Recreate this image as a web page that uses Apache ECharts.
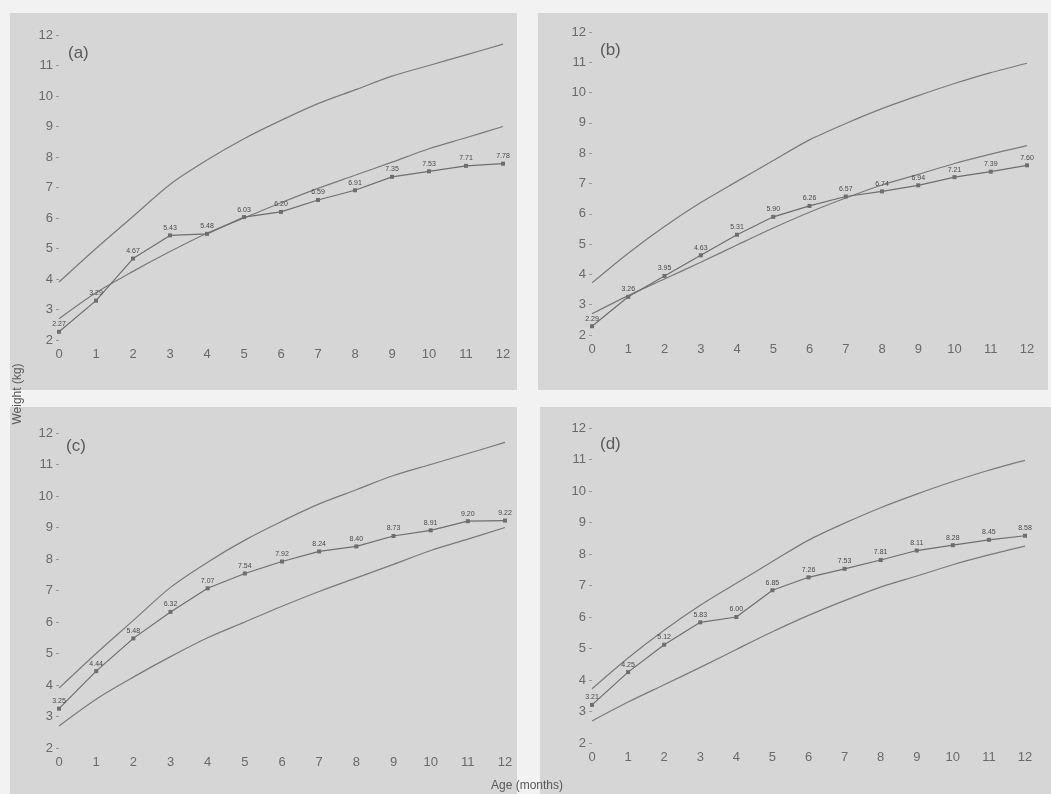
<!DOCTYPE html>
<html>
<head>
<meta charset="utf-8">
<script src="https://cdn.jsdelivr.net/npm/echarts@6/dist/echarts.min.js"></script>
<style>
html,body{margin:0;padding:0;background:#f2f2f2;}
#c{width:1051px;height:794px;}
</style>
</head>
<body>
<div id="c"></div>
<script>
// months 0..12
var months = [0,1,2,3,4,5,6,7,8,9,10,11,12];
var panelLabels = ['(a)','(b)','(c)','(d)'];
// reference curves (upper / lower) for panels a & c
var refUpperAC = [3.9,5.0,6.05,7.1,7.9,8.6,9.2,9.75,10.2,10.65,11.0,11.35,11.7];
var refLowerAC = [2.7,3.55,4.25,4.9,5.5,6.0,6.5,6.97,7.4,7.83,8.27,8.63,9.0];
// reference curves for panels b & d
var refUpperBD = [3.72,4.7,5.58,6.37,7.07,7.76,8.44,8.98,9.47,9.9,10.3,10.66,10.97];
var refLowerBD = [2.7,3.3,3.85,4.4,4.97,5.53,6.05,6.52,6.95,7.3,7.66,7.97,8.25];
// observed mean weights
var dataA = [2.27,3.29,4.67,5.43,5.48,6.03,6.20,6.59,6.91,7.35,7.53,7.71,7.78];
var dataB = [2.29,3.26,3.95,4.63,5.31,5.90,6.26,6.57,6.74,6.94,7.21,7.39,7.60];
var dataC = [3.25,4.44,5.48,6.32,7.07,7.54,7.92,8.24,8.40,8.73,8.91,9.20,9.22];
var dataD = [3.21,4.25,5.12,5.83,6.00,6.85,7.26,7.53,7.81,8.11,8.28,8.45,8.58];
var yTicks = [2,3,4,5,6,7,8,9,10,11,12];
var xTitle = 'Age (months)';
var yTitle = 'Weight (kg)';

function pairs(arr){ return months.map(function(m,i){ return [m, arr[i]]; }); }

var grids = [
  {left:59, top:35, width:444, height:305},
  {left:592, top:32, width:435, height:303},
  {left:59, top:433, width:446, height:315},
  {left:592, top:428, width:433, height:315}
];
var panelData = [
  [refUpperAC, refLowerAC, dataA],
  [refUpperBD, refLowerBD, dataB],
  [refUpperAC, refLowerAC, dataC],
  [refUpperBD, refLowerBD, dataD]
];
var txt = '#6a6a6a';
var lineCol = '#7a7a7a';
var xAxes = [], yAxes = [], series = [];
grids.forEach(function(g, i){
  xAxes.push({gridIndex:i, type:'value', min:0, max:12, interval:1,
    axisLine:{show:false}, axisTick:{show:false}, splitLine:{show:false},
    axisLabel:{color:txt, fontSize:13, fontFamily:'Arial, Liberation Sans', margin:8}});
  yAxes.push({gridIndex:i, type:'value', min:yTicks[0], max:yTicks[yTicks.length-1], interval:1,
    axisLine:{show:false}, axisTick:{show:true, length:3, inside:false, lineStyle:{color:'#9a9a9a'}}, splitLine:{show:false},
    axisLabel:{color:txt, fontSize:13, fontFamily:'Arial, Liberation Sans', margin:6}});
  var pd = panelData[i];
  series.push({type:'line', xAxisIndex:i, yAxisIndex:i, data:pairs(pd[0]), smooth:0.3, symbol:'none',
    lineStyle:{color:lineCol, width:1.2}, z:3});
  series.push({type:'line', xAxisIndex:i, yAxisIndex:i, data:pairs(pd[1]), smooth:0.3, symbol:'none',
    lineStyle:{color:lineCol, width:1.2}, z:3});
  series.push({type:'line', xAxisIndex:i, yAxisIndex:i, data:pairs(pd[2]), symbol:'rect', symbolSize:4,
    itemStyle:{color:'#6e6e6e'}, lineStyle:{color:'#6e6e6e', width:1.2},
    label:{show:true, position:'top', distance:2, fontSize:7, color:'#4a4a4a', fontFamily:'Arial, Liberation Sans',
      formatter:function(p){ return p.value[1].toFixed(2); }}, z:4});
});

var graphics = [
  {type:'rect', shape:{x:10,y:13,width:507,height:377}, style:{fill:'#d6d6d6'}, z:-10},
  {type:'rect', shape:{x:538,y:13,width:510,height:377}, style:{fill:'#d6d6d6'}, z:-10},
  {type:'rect', shape:{x:10,y:407,width:507,height:387}, style:{fill:'#d6d6d6'}, z:-10},
  {type:'rect', shape:{x:540,y:407,width:511,height:387}, style:{fill:'#d6d6d6'}, z:-10},
  {type:'text', x:68, y:45, style:{text:panelLabels[0], fontSize:17, fill:'#5a5a5a', fontFamily:'Arial, Liberation Sans'}},
  {type:'text', x:600, y:42, style:{text:panelLabels[1], fontSize:17, fill:'#5a5a5a', fontFamily:'Arial, Liberation Sans'}},
  {type:'text', x:66, y:438, style:{text:panelLabels[2], fontSize:17, fill:'#5a5a5a', fontFamily:'Arial, Liberation Sans'}},
  {type:'text', x:600, y:436, style:{text:panelLabels[3], fontSize:17, fill:'#5a5a5a', fontFamily:'Arial, Liberation Sans'}},
  {type:'text', x:18, y:394, rotation:Math.PI/2, style:{text:yTitle, fontSize:12, fill:'#5a5a5a', align:'center', verticalAlign:'middle', fontFamily:'Arial, Liberation Sans'}},
  {type:'text', x:527, y:786, style:{text:xTitle, fontSize:12, fill:'#5a5a5a', align:'center', verticalAlign:'middle', fontFamily:'Arial, Liberation Sans'}}
];

var chart = echarts.init(document.getElementById('c'));
chart.setOption({
  animation:false,
  backgroundColor:'#f2f2f2',
  grid:grids,
  xAxis:xAxes,
  yAxis:yAxes,
  series:series,
  graphic:graphics
});
</script>
</body>
</html>
